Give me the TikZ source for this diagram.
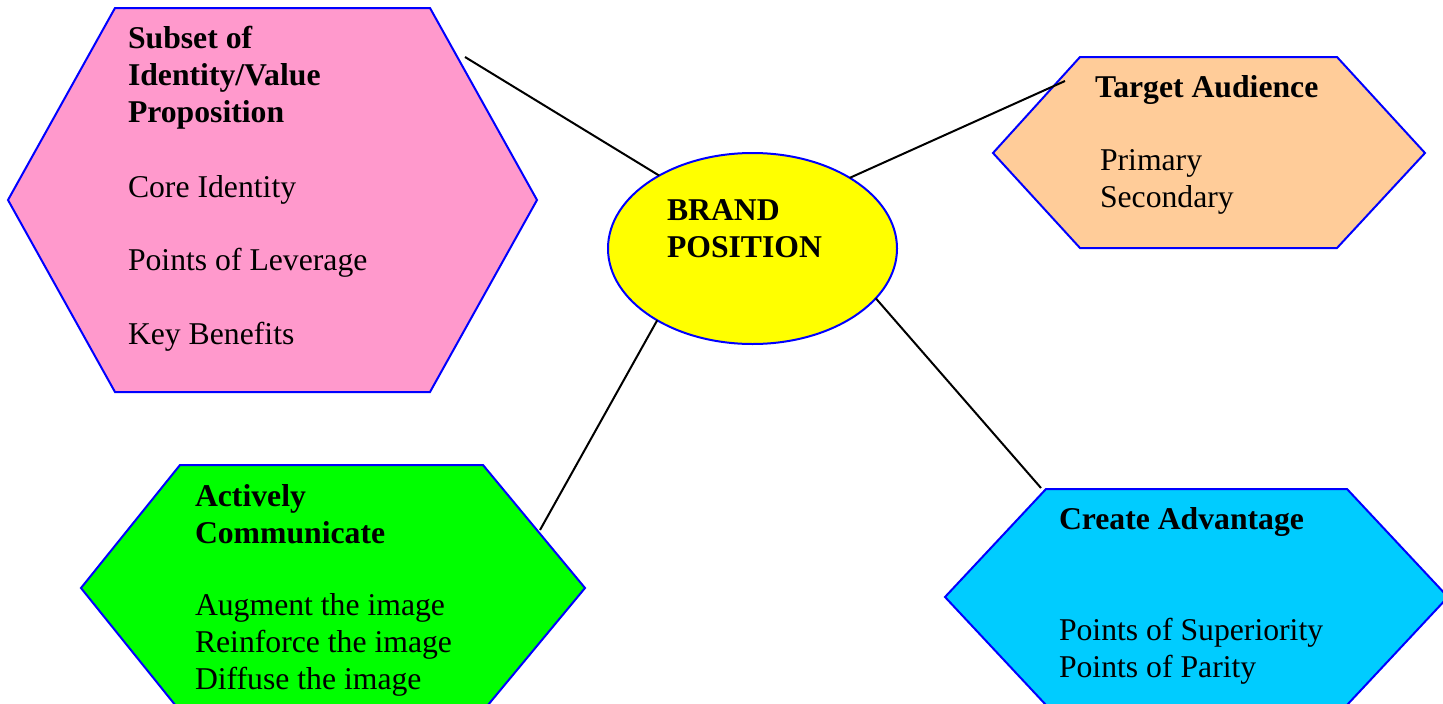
\documentclass[tikz,border=0pt]{standalone}
\usepackage{fontspec}
\setmainfont{Liberation Serif}
\usetikzlibrary{shapes.geometric}
\definecolor{pinkfill}{HTML}{FF99CC}
\definecolor{peachfill}{HTML}{FFCC99}
\definecolor{limefill}{HTML}{00FF00}
\definecolor{skyfill}{HTML}{00CCFF}
\definecolor{sunfill}{HTML}{FFFF00}
\definecolor{edgeblue}{HTML}{0000FF}
\begin{document}
\begin{tikzpicture}[x=1pt,y=-1pt,
  hexbox/.style={draw=edgeblue, line width=2pt, line join=miter},
  % multi-line texts are placed by the baseline of their last line
  bodytext/.style={anchor=base west, inner sep=0pt, outer sep=0pt, align=left,
    font=\fontsize{31.7}{36.8}\selectfont},
  headtext/.style={bodytext, font=\fontsize{31.7}{36.8}\selectfont\bfseries},
  link/.style={draw=black, line width=2pt}]
\useasboundingbox (0,0) rectangle (1443,704);
\clip (0,0) rectangle (1443,704);

% hexagonal panels
\draw[hexbox, fill=pinkfill]  (115,8) -- (430,8) -- (537,200) -- (430,392) -- (115,392) -- (8,200) -- cycle;
\draw[hexbox, fill=peachfill] (1080,57) -- (1337,57) -- (1425,153) -- (1337,248) -- (1080,248) -- (993,153) -- cycle;
\draw[hexbox, fill=limefill]  (180,465) -- (483,465) -- (585,588) -- (483,711) -- (180,711) -- (81,588) -- cycle;
\draw[hexbox, fill=skyfill]   (1046,489) -- (1347,489) -- (1448,597) -- (1347,705) -- (1046,705) -- (945,597) -- cycle;

% central ellipse
\node[ellipse, draw=edgeblue, fill=sunfill, line width=2pt, minimum width=289pt,
  minimum height=191pt, inner sep=0pt, outer sep=0pt] (bp) at (752.5,248.5) {};
\node[headtext] (bptext) at (667,257) {BRAND\\POSITION};

% panel texts
\node[headtext] (identityhead) at (128,122.5) {Subset of\\Identity/Value\\Proposition};
\node[bodytext] (identitybody) at (128,344.5) {Core Identity\\[36.8pt]Points of Leverage\\[36.8pt]Key Benefits};
\node[headtext] (audiencehead) at (1095,97.5) {Target Audience};
\node[bodytext] (audiencebody) at (1100,207.5) {Primary\\Secondary};
\node[headtext] (commhead) at (195,543.5) {Actively\\Communicate};
\node[bodytext] (commbody) at (195,689.5) {Augment the image\\Reinforce the image\\Diffuse the image};
\node[headtext] (advhead) at (1059,529.5) {Create Advantage};
\node[bodytext] (advbody) at (1059,677.5) {Points of Superiority\\Points of Parity};

% connector ends inside the panels
\coordinate (identityend) at (465,57);
\coordinate (audienceend) at (1065,81);
\coordinate (commend) at (540,530);
\coordinate (advend) at (1041,488);

\draw[link] (identityend) -- (bp.142);
\draw[link] (bp.36.5) -- (audienceend);
\draw[link] (bp.217) -- (commend);
\draw[link] (bp.-22) -- (advend);
\end{tikzpicture}
\end{document}
